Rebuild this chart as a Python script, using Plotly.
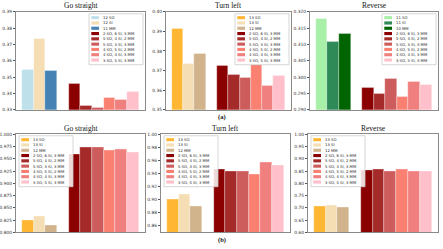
import plotly.graph_objects as go

W, H = 443, 249

# ---------------- data ----------------
titles = ["Go straight", "Turn left", "Reverse"]

mix_labels = ["2 SO, 6 SI, 3 MM", "5 SO, 4 SI, 2 MM", "5 SO, 3 SI, 3 MM",
              "4 SO, 5 SI, 2 MM", "4 SO, 4 SI, 3 MM", "3 SO, 5 SI, 3 MM"]

top_gs_labels = ["12 SO", "12 SI", "11 MM"]
top_tl_labels = ["13 SO", "13 SI", "12 MM"]
top_rv_labels = ["11 SO", "11 SI", "10 MM"]
bot_labels = ["13 SO", "13 SI", "12 MM"]

top_gs_base = [0.3544, 0.3734, 0.3538]
top_gs_mix = [0.3460, 0.3324, 0.3312, 0.3374, 0.3360, 0.3410]
top_tl_base = [0.3912, 0.3733, 0.3788]
top_tl_mix = [0.3725, 0.3677, 0.3663, 0.3728, 0.3623, 0.3673]
top_rv_base = [0.3178, 0.3108, 0.3134]
top_rv_mix = [0.2968, 0.2950, 0.2996, 0.2941, 0.2987, 0.2977]

bot_gs_base = [0.8247, 0.8320, 0.8153]
bot_gs_mix = [0.9587, 0.9733, 0.9733, 0.9680, 0.9687, 0.9640]
bot_tl_base = [0.9010, 0.9080, 0.8905]
bot_tl_mix = [0.9470, 0.9440, 0.9440, 0.9385, 0.9575, 0.9520]
bot_rv_base = [0.7067, 0.7120, 0.7000]
bot_rv_mix = [0.8520, 0.8570, 0.8510, 0.8570, 0.8510, 0.8510]

# ---------------- styles ----------------
mix_colors = ["#8B0000", "#A52A2A", "#CD5C5C", "#FA8072", "#F08080", "#FFC0CB"]
blue_colors = ["#BDE0EB", "#F5DEB3", "#4682B4"]
orange_colors = ["#FFB733", "#F5DEB3", "#D2B48C"]
green_colors = ["#A8EFA8", "#2E8B57", "#006400"]

panels = [
    dict(title=titles[0], base=top_gs_base, mix=top_gs_mix, labels=top_gs_labels,
         colors=blue_colors, yr=[0.33, 0.39], dt=0.01, t0=0.33, fmt=".2f",
         box=(16, 145, 10, 110), leg="right"),
    dict(title=titles[1], base=top_tl_base, mix=top_tl_mix, labels=top_tl_labels,
         colors=orange_colors, yr=[0.35, 0.40], dt=0.01, t0=0.35, fmt=".2f",
         box=(166, 291, 10, 110), leg="right"),
    dict(title=titles[2], base=top_rv_base, mix=top_rv_mix, labels=top_rv_labels,
         colors=green_colors, yr=[0.290, 0.320], dt=0.005, t0=0.290, fmt=".3f",
         box=(310, 438, 10, 110), leg="right"),
    dict(title=titles[0], base=bot_gs_base, mix=bot_gs_mix, labels=bot_labels,
         colors=orange_colors, yr=[0.800, 1.000], dt=0.025, t0=0.800, fmt=".3f",
         box=(16, 145, 135, 235), leg="left"),
    dict(title=titles[1], base=bot_tl_base, mix=bot_tl_mix, labels=bot_labels,
         colors=orange_colors, yr=[0.85, 1.00], dt=0.02, t0=0.86, fmt=".2f",
         box=(161, 290, 135, 235), leg="left"),
    dict(title=titles[2], base=bot_rv_base, mix=bot_rv_mix, labels=bot_labels,
         colors=orange_colors, yr=[0.60, 1.00], dt=0.05, t0=0.60, fmt=".2f",
         box=(308, 438, 135, 235), leg="left"),
]

def fx(px):
    return px / W

def fy(py):
    return 1 - py / H

fig = go.Figure()
shapes = []
annotations = []

for i, p in enumerate(panels):
    n = i + 1
    xa = "x" if n == 1 else f"x{n}"
    ya = "y" if n == 1 else f"y{n}"
    base_pos = list(range(len(p["base"])))
    mix_pos = [len(p["base"]) + 1 + k for k in range(len(p["mix"]))]
    fig.add_trace(go.Bar(x=base_pos, y=p["base"], width=1,
                         marker=dict(color=p["colors"], line=dict(color="rgba(255,255,255,0.6)", width=0.5)),
                         xaxis=xa, yaxis=ya, showlegend=False))
    fig.add_trace(go.Bar(x=mix_pos, y=p["mix"], width=1,
                         marker=dict(color=mix_colors, line=dict(color="rgba(255,255,255,0.6)", width=0.5)),
                         xaxis=xa, yaxis=ya, showlegend=False))
    x0, x1, y0, y1 = p["box"]
    nt = int(round((p["yr"][1] - p["t0"]) / p["dt"])) + 1
    tickvals = [p["t0"] + k * p["dt"] for k in range(nt)]
    fig.layout[("xaxis" if n == 1 else f"xaxis{n}")] = dict(
        domain=[fx(x0), fx(x1)], range=[-1.0, 10.05], anchor=ya,
        showticklabels=False, ticks="", showgrid=False, zeroline=False,
        showline=True, linecolor="#8a8a8a", linewidth=1, mirror=True)
    fig.layout[("yaxis" if n == 1 else f"yaxis{n}")] = dict(
        domain=[fy(y1), fy(y0)], range=p["yr"], anchor=xa,
        tickvals=tickvals, tickformat=p["fmt"], ticks="outside", ticklen=2,
        tickwidth=0.6, tickcolor="#555", showgrid=False, zeroline=False,
        showline=True, linecolor="#8a8a8a", linewidth=1, mirror=True,
        tickfont=dict(family="DejaVu Sans", size=4.4, color="#333"))
    # title
    annotations.append(dict(text=p["title"], x=fx((x0 + x1) / 2), y=fy(y0 - 0.5),
                            xref="paper", yref="paper", xanchor="center", yanchor="bottom",
                            showarrow=False, borderpad=0,
                            font=dict(family="Liberation Serif", size=7.5, color="#111")))
    # legend (drawn manually)
    names = p["labels"] + mix_labels
    cols = p["colors"] + mix_colors
    bw, bh = 54, 52
    if p["leg"] == "right":
        lx0 = x1 - 2 - bw
        ly0 = y0 + 2
    else:
        lx0 = x0 + 3
        ly0 = y0 + 1.5
    shapes.append(dict(type="rect", xref="paper", yref="paper",
                       x0=fx(lx0), x1=fx(lx0 + bw), y0=fy(ly0 + bh), y1=fy(ly0),
                       line=dict(color="#cccccc", width=0.8), fillcolor="rgba(255,255,255,0.85)"))
    for k, (nm, c) in enumerate(zip(names, cols)):
        cy = ly0 + 4 + k * 5.4
        shapes.append(dict(type="rect", xref="paper", yref="paper",
                           x0=fx(lx0 + 2.3), x1=fx(lx0 + 10), y0=fy(cy + 1.6), y1=fy(cy - 1.6),
                           line=dict(width=0), fillcolor=c))
        annotations.append(dict(text=nm, x=fx(lx0 + 13), y=fy(cy), xref="paper", yref="paper",
                                xanchor="left", yanchor="middle", showarrow=False, borderpad=0,
                                font=dict(family="DejaVu Sans", size=3.8, color="#222")))

annotations.append(dict(text="<b>(a)</b>", x=fx(222), y=fy(117), xref="paper", yref="paper",
                        xanchor="center", yanchor="middle", showarrow=False, borderpad=0,
                        font=dict(family="Liberation Serif", size=6.5, color="#111")))
annotations.append(dict(text="<b>(b)</b>", x=fx(222), y=fy(242.5), xref="paper", yref="paper",
                        xanchor="center", yanchor="middle", showarrow=False, borderpad=0,
                        font=dict(family="Liberation Serif", size=6.5, color="#111")))

fig.update_layout(width=W, height=H, margin=dict(l=0, r=0, t=0, b=0),
                  paper_bgcolor="white", plot_bgcolor="white",
                  shapes=shapes, annotations=annotations, bargap=0, showlegend=False)

fig.write_html("out.html", config={"displayModeBar": False},
               post_script="document.body.style.margin='0';document.body.style.overflow='hidden';")
